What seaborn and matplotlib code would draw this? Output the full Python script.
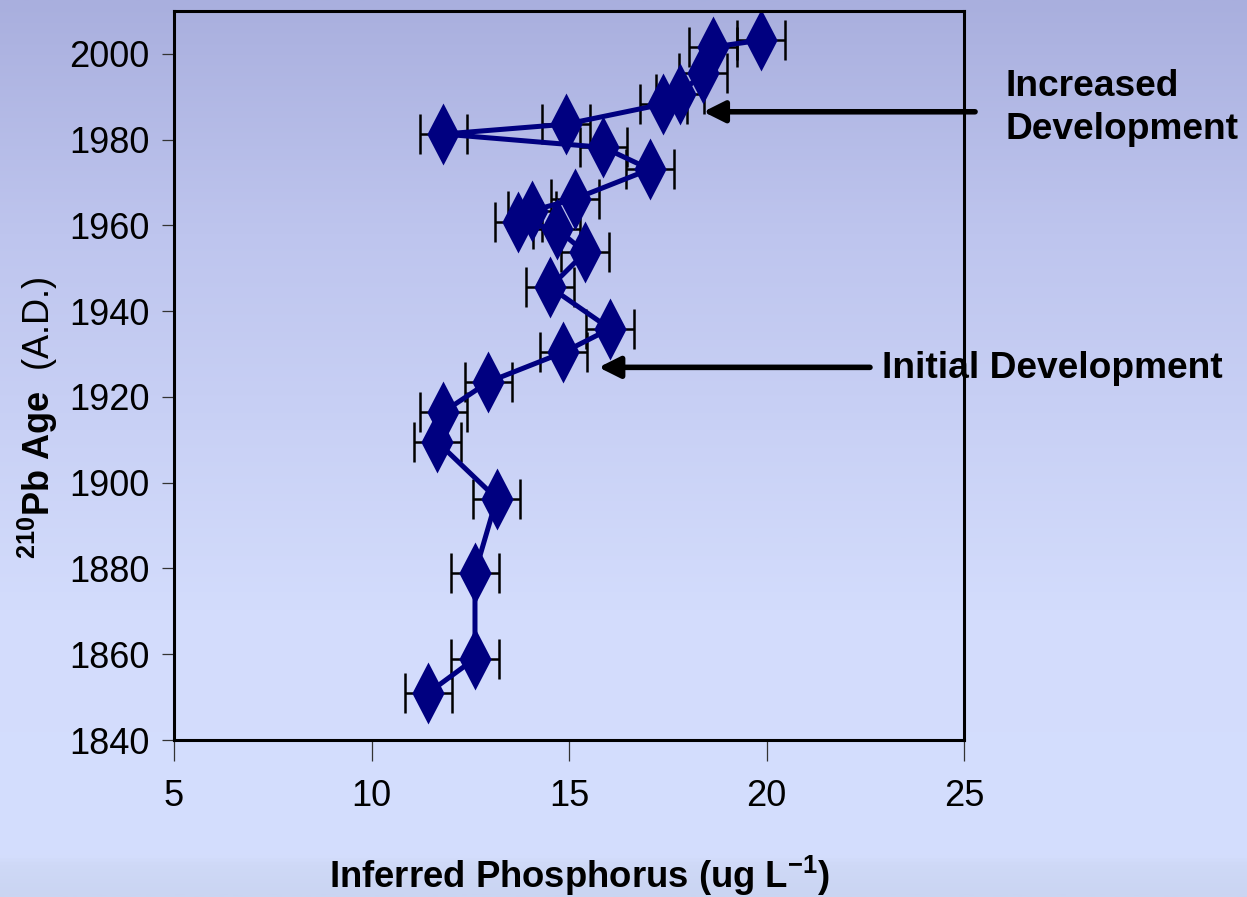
import numpy as np
import matplotlib
matplotlib.use("Agg")
import matplotlib.pyplot as plt
from matplotlib.colors import LinearSegmentedColormap
import seaborn as sns

# ---- data ----
years = [1851.0, 1859.0, 1879.0, 1896.3, 1909.5, 1916.5, 1923.5, 1930.4, 1935.9,
         1945.6, 1953.7, 1959.2, 1960.7, 1963.4, 1966.2, 1973.1, 1978.2, 1981.3,
         1983.6, 1988.3, 1990.6, 1995.6, 2001.6, 2003.2]
phosphorus = [11.44, 12.62, 12.62, 13.17, 11.67, 11.82, 12.96, 14.86, 16.04,
              14.52, 15.41, 14.69, 13.72, 14.06, 15.15, 17.05, 15.87, 11.82,
              14.92, 17.39, 17.81, 18.39, 18.65, 19.86]
phos_err = [0.6] * len(years)
x_ticks = [5, 10, 15, 20, 25]
y_ticks = [1840, 1860, 1880, 1900, 1920, 1940, 1960, 1980, 2000]

sns.set_theme(style="white")
plt.rcParams['font.family'] = ['Liberation Sans', 'DejaVu Sans']
plt.rcParams['mathtext.fontset'] = 'custom'
plt.rcParams['mathtext.rm'] = 'Liberation Sans'
plt.rcParams['mathtext.bf'] = 'Liberation Sans:bold'
plt.rcParams['mathtext.it'] = 'Liberation Sans:italic'
plt.rcParams['text.color'] = 'black'
plt.rcParams['axes.labelcolor'] = 'black'
plt.rcParams['xtick.color'] = 'black'
plt.rcParams['ytick.color'] = 'black'

W, H = 1247, 897
fig = plt.figure(figsize=(W / 100, H / 100), dpi=100)

# gradient background
bg = fig.add_axes([0, 0, 1, 1], zorder=-10)
stops = [(0.0, (169, 175, 222)), (0.26, (190, 197, 238)), (0.68, (211, 220, 252)),
         (0.955, (212, 222, 254)), (0.965, (207, 217, 247)), (1.0, (202, 213, 242))]
cmap = LinearSegmentedColormap.from_list(
    "bg", [(p, tuple(c / 255 for c in col)) for p, col in stops])
grad = np.linspace(0, 1, 512).reshape(-1, 1)
bg.imshow(grad, aspect='auto', cmap=cmap, extent=[0, 1, 1, 0])
bg.set_axis_off()

# main axes
left, right = 174 / W, 964 / W
bottom, top = 1 - 740 / H, 1 - 11 / H
ax = fig.add_axes([left, bottom, right - left, top - bottom])
ax.set_facecolor('none')

ax.errorbar(phosphorus, years, xerr=phos_err, fmt='none', ecolor='black',
            elinewidth=1.8, capsize=14.5, capthick=1.8, zorder=1)

diamond = [(0, 1), (0.52, 0), (0, -1), (-0.52, 0), (0, 1)]
sns.lineplot(x=phosphorus, y=years, sort=False, estimator=None, ax=ax,
             color='#000080', linewidth=3.6, marker=diamond, markersize=44.6,
             markeredgewidth=0, markerfacecolor='#000080', zorder=2)

ax.set_xlim(5, 25)
ax.set_ylim(1840, 2010)
ax.set_xticks(x_ticks)
ax.set_yticks(y_ticks)
ax.set_xticklabels([str(v) for v in x_ticks])
ax.set_yticklabels([str(v) for v in y_ticks])
ax.set_xlabel('')
ax.set_ylabel('')
for s in ax.spines.values():
    s.set_visible(True)
    s.set_color('black')
    s.set_linewidth(2.2)
ax.tick_params(axis='x', direction='out', length=15, width=0.9, color='#333333',
               pad=13, labelsize=26, labelcolor='black', bottom=True)
ax.tick_params(axis='y', direction='out', length=8.5, width=0.9, color='#333333',
               pad=9, labelsize=26, labelcolor='black', left=True)

# axis titles
fig.text(580 / W, 1 - 876 / H, r'Inferred Phosphorus (ug L$^{\mathbf{-1}}$)',
         ha='center', va='center', fontsize=26.3, fontweight='bold')
fig.text(38 / W, 1 - 418 / H, r'${}^{\mathbf{210}}\mathbf{Pb\ Age}$  (A.D.)',
         ha='center', va='center', rotation=90, fontsize=26)

# annotations
arrow_kw = dict(arrowstyle='-|>', lw=4, color='black', mutation_scale=32,
                shrinkA=0, shrinkB=0)
ax.annotate('', xy=(18.40, 1986.5), xytext=(25.28, 1986.5),
            arrowprops=arrow_kw, annotation_clip=False)
ax.annotate('', xy=(15.75, 1926.9), xytext=(22.62, 1926.9),
            arrowprops=arrow_kw, annotation_clip=False)
fig.text(1005 / W, 1 - 108 / H, 'Increased\nDevelopment', ha='left', va='center',
         fontsize=26.7, fontweight='bold', linespacing=1.3)
fig.text(882 / W, 1 - 368 / H, 'Initial Development', ha='left', va='center',
         fontsize=26.7, fontweight='bold')

fig.savefig('out.png', dpi=100)
